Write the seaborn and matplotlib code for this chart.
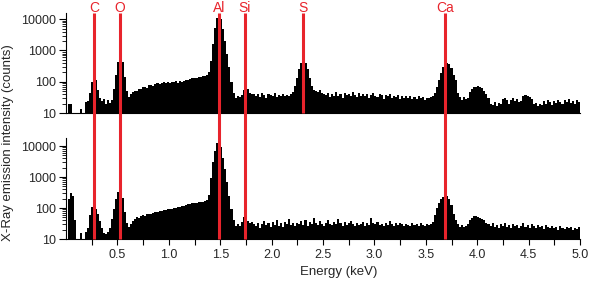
import numpy as np
import pandas as pd
import seaborn as sns
import matplotlib
matplotlib.use("Agg")
from matplotlib import pyplot as plt
from matplotlib.ticker import FixedLocator, FuncFormatter, LogLocator, NullFormatter
from matplotlib.lines import Line2D
from matplotlib.transforms import blended_transform_factory

# ========================================================
# data (counts per 0.02 keV channel)

channelWidth = 0.02
topCounts = [
    1, 20, 20, 1, 1, 1, 1, 13, 1, 22,
    25, 45, 100, 130, 115, 55, 30, 24, 28, 19,
    27, 21, 26, 60, 160, 420, 620, 430, 140, 50,
    33, 40, 46, 52, 50, 60, 57, 66, 70, 64,
    76, 80, 74, 86, 90, 84, 93, 96, 88, 98,
    93, 100, 95, 102, 94, 105, 99, 108, 112, 116,
    121, 127, 131, 136, 142, 140, 150, 155, 165, 200,
    450, 1600, 5200, 11000, 15000, 10500, 5000, 2000, 800, 300,
    100, 45, 30, 36, 32, 38, 55, 68, 58, 45,
    40, 42, 36, 40, 33, 44, 38, 30, 41, 37,
    35, 43, 32, 39, 36, 41, 34, 38, 35, 40,
    48, 72, 130, 250, 400, 490, 410, 260, 130, 72,
    55, 52, 48, 56, 44, 40, 38, 45, 33, 42,
    36, 48, 35, 40, 30, 44, 37, 41, 34, 46,
    39, 32, 43, 36, 40, 35, 42, 31, 38, 45,
    36, 33, 40, 37, 29, 38, 34, 41, 30, 36,
    33, 39, 28, 35, 31, 34, 30, 36, 28, 33,
    29, 35, 30, 32, 27, 31, 30, 32, 36, 45,
    70, 115, 190, 300, 370, 400, 360, 270, 160, 110,
    45, 32, 26, 32, 28, 30, 48, 60, 66, 70,
    72, 68, 62, 52, 40, 30, 20, 18, 22, 17,
    21, 19, 28, 31, 27, 20, 26, 30, 24, 28,
    22, 25, 34, 38, 36, 32, 28, 19, 21, 17,
    20, 18, 24, 20, 26, 22, 18, 25, 21, 27,
    23, 19, 26, 22, 28, 21, 25, 20, 26, 22,
]
bottomCounts = [
    1, 200, 300, 240, 40, 1, 1, 16, 1, 17,
    22, 60, 110, 130, 95, 65, 38, 22, 16, 15,
    17, 22, 45, 95, 200, 340, 380, 210, 75, 32,
    24, 30, 38, 44, 50, 48, 55, 58, 54, 62,
    66, 63, 70, 74, 72, 80, 78, 85, 88, 92,
    90, 96, 100, 97, 104, 108, 112, 118, 125, 132,
    136, 140, 145, 150, 155, 158, 162, 168, 180, 260,
    900, 3000, 7000, 12500, 17000, 9000, 4000, 1800, 700, 250,
    90, 40, 26, 30, 27, 35, 50, 44, 38, 32,
    36, 30, 27, 34, 22, 31, 38, 28, 33, 25,
    35, 29, 40, 27, 32, 24, 36, 30, 45, 28,
    33, 26, 34, 31, 38, 29, 42, 27, 35, 31,
    46, 33, 29, 37, 30, 26, 34, 41, 31, 28,
    36, 30, 44, 32, 27, 35, 29, 33, 38, 30,
    26, 34, 29, 31, 36, 27, 33, 28, 46, 32,
    30, 35, 28, 31, 26, 33, 29, 37, 30, 27,
    32, 28, 34, 30, 26, 31, 29, 27, 33, 28,
    30, 26, 32, 29, 27, 31, 28, 30, 36, 60,
    100, 150, 200, 230, 245, 240, 200, 125, 62, 40,
    30, 25, 28, 24, 27, 30, 40, 48, 54, 56,
    52, 48, 44, 40, 34, 30, 26, 32, 24, 29,
    22, 30, 27, 33, 25, 28, 23, 31, 26, 29,
    22, 27, 32, 25, 28, 23, 30, 26, 22, 28,
    24, 27, 21, 29, 25, 23, 27, 22, 25, 20,
    26, 23, 21, 25, 22, 24, 20, 23, 21, 24,
]

elements = ["C", "O", "Al", "Si", "S", "Ca"]
elementEnergy = [0.277, 0.525, 1.486, 1.740, 2.307, 3.690]
elementInBottom = [True, True, True, True, False, True]

xMajor = [0.5, 1.0, 1.5, 2.0, 2.5, 3.0, 3.5, 4.0, 4.5, 5.0]
xMinor = [0.25, 0.75, 1.25, 1.75, 2.25, 2.75, 3.25, 3.75, 4.25, 4.75]
yMajor = [10, 100, 1000, 10000]

# ========================================================
sns.set_style("ticks")
plt.rcParams["font.family"] = ["Liberation Sans", "DejaVu Sans"]

red = "#e8242c"
W, H = 591, 286

fig = plt.figure(figsize=(W / 100, H / 100), dpi=100)

def pxAxes(left, top, right, bottom):
    return fig.add_axes([left / W, 1 - bottom / H, (right - left) / W, (bottom - top) / H])

axTop = pxAxes(66, 13, 580, 113)
axBot = pxAxes(66, 138, 580, 239)

edges = [round(i * channelWidth, 2) for i in range(len(topCounts) + 1)]
energy = [e + channelWidth / 2 for e in edges[:-1]]

for ax, counts, ymax in [(axTop, topCounts, 15800), (axBot, bottomCounts, 18200)]:
    spec = pd.DataFrame({"energy": energy, "counts": counts})
    sns.histplot(data=spec, x="energy", weights="counts", bins=edges, element="step",
                 fill=True, color="black", alpha=1, linewidth=0, ax=ax)
    ax.set_yscale("log")
    ax.set_xlim(0, 5.0)
    ax.set_ylim(10, ymax)
    ax.set_xlabel("")
    ax.set_ylabel("")
    ax.yaxis.set_major_locator(FixedLocator(yMajor))
    ax.yaxis.set_major_formatter(FuncFormatter(lambda v, p: f"{int(v)}"))
    ax.yaxis.set_minor_locator(LogLocator(base=10, subs=np.arange(2, 10)))
    ax.yaxis.set_minor_formatter(NullFormatter())
    ax.tick_params(axis="y", which="major", direction="out", length=5, width=0.8,
                   labelsize=9, pad=2, color="black")
    ax.tick_params(axis="y", which="minor", direction="out", length=3, width=0.6, color="black")
    sns.despine(ax=ax)
    for s in ["left", "bottom"]:
        ax.spines[s].set_color("black")
        ax.spines[s].set_linewidth(0.8)

axTop.set_xticks([])
axBot.xaxis.set_major_locator(FixedLocator(xMajor))
axBot.xaxis.set_minor_locator(FixedLocator(xMinor))
axBot.xaxis.set_major_formatter(FuncFormatter(lambda v, p: f"{v:.1f}"))
axBot.tick_params(axis="x", which="both", direction="out", length=4, width=0.8,
                  labelsize=9, pad=3, color="black")

# element marker lines crossing both panels
trans = blended_transform_factory(axTop.transData, fig.transFigure)
yTop = 1 - 13 / H
for name, e, inBot in zip(elements, elementEnergy, elementInBottom):
    yEnd = 1 - (239 if inBot else 113) / H
    fig.add_artist(Line2D([e, e], [yEnd, yTop], transform=trans, color=red, lw=2.2,
                          solid_capstyle="butt", zorder=10))
    fig.text(e, 1 - 12 / H, name, transform=trans, color=red, fontsize=10,
             ha="center", va="baseline")

fig.text(8 / W, 0.5, "X-Ray emission intensity (counts)", rotation=90,
         ha="center", va="center", fontsize=9.5)
fig.text(339 / W, 1 - 272 / H, "Energy (keV)", ha="center", va="center", fontsize=9.5)

fig.savefig("out.png", dpi=100)
